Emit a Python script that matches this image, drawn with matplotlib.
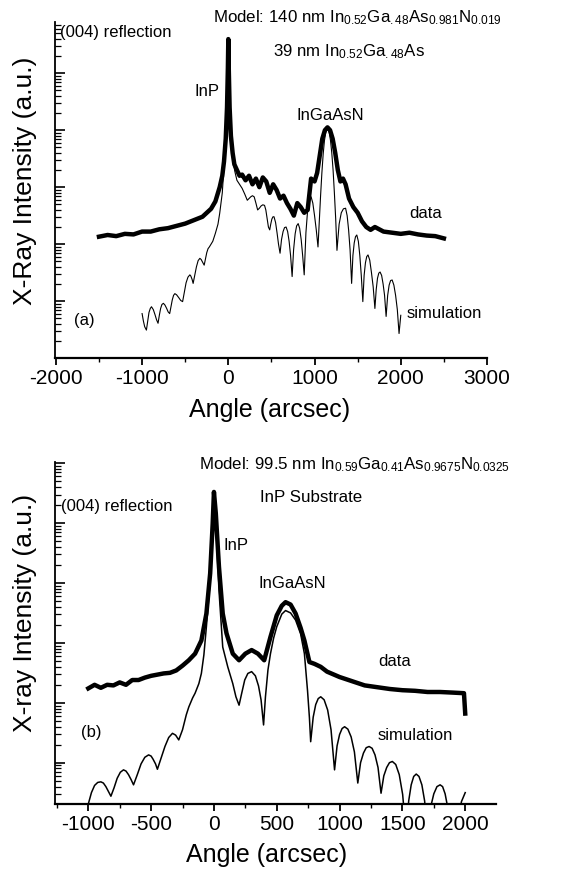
import numpy as np
import matplotlib
matplotlib.use('Agg')
import matplotlib.pyplot as plt
from matplotlib.ticker import MultipleLocator, NullFormatter, LogLocator

plt.rcParams['font.family'] = ['Liberation Sans', 'DejaVu Sans']
plt.rcParams['mathtext.fontset'] = 'custom'
plt.rcParams['mathtext.rm'] = 'Liberation Sans'
plt.rcParams['mathtext.it'] = 'Liberation Sans'
plt.rcParams['axes.unicode_minus'] = False

# panel (a): angle in arcsec, intensity as log10
a_data_x = [-1500, -1400, -1300, -1200, -1100, -1000, -900, -800, -700, -600, -500, -400, -300,
            -250, -200, -150, -100, -70, -50, -30, -15, -5, 0, 5, 15, 30, 50, 70, 100, 130, 160,
            200, 240, 280, 320, 360, 400, 440, 480, 520, 560, 600, 640, 680, 720, 760, 800, 840,
            880, 920, 960, 1000, 1030, 1060, 1090, 1120, 1150, 1180, 1210, 1240, 1270, 1300, 1330,
            1360, 1400, 1450, 1500, 1550, 1600, 1650, 1700, 1800, 1900, 2000, 2100, 2200, 2300,
            2400, 2500]
a_data_y = [2.13, 2.16, 2.14, 2.18, 2.17, 2.22, 2.22, 2.26, 2.28, 2.32, 2.36, 2.42, 2.48,
            2.55, 2.62, 2.75, 3.0, 3.2, 3.45, 3.85, 4.4, 5.1, 5.6, 5.1, 4.4, 3.9, 3.6, 3.4, 3.3,
            3.2, 3.22, 3.12, 3.2, 3.05, 3.15, 3.0, 3.17, 3.1, 2.9, 3.05, 2.95, 2.8, 2.85, 2.72,
            2.62, 2.5, 2.72, 2.65, 2.55, 2.6, 3.15, 3.1, 3.25, 3.55, 3.85, 4.0, 4.05, 4.0, 3.85,
            3.6, 3.3, 3.1, 3.15, 3.05, 2.8, 2.65, 2.55, 2.4, 2.3, 2.25, 2.3, 2.22, 2.2, 2.18,
            2.2, 2.17, 2.15, 2.14, 2.1]

a_sim_x = [-1000, -985, -970, -950, -935, -920, -905, -891, -870, -850, -832, -815, -800, -785,
           -770, -753, -735, -715, -698, -680, -665, -650, -635, -620, -600, -575, -552, -530,
           -510, -490, -468, -446, -435, -420, -408, -390, -370, -350, -330, -315, -298, -280,
           -265, -250, -235, -220, -200, -180, -150, -120, -100, -70, -50, -30, -15, -5, 0, 5,
           15, 30, 50, 75, 100, 130, 160, 190, 220, 240, 260, 280, 300, 320, 340, 360, 380, 400,
           420, 435, 450, 465, 480, 492, 505, 518, 530, 548, 565, 582, 600, 617, 635, 652, 670,
           688, 705, 722, 740, 757, 775, 792, 810, 827, 845, 862, 880, 900, 920, 940, 960, 980,
           1000, 1020, 1040, 1055, 1070, 1085, 1100, 1115, 1130, 1150, 1170, 1185, 1200, 1215,
           1230, 1245, 1260, 1285, 1310, 1335, 1360, 1378, 1395, 1412, 1430, 1445, 1460, 1475,
           1490, 1508, 1525, 1542, 1560, 1575, 1590, 1605, 1620, 1640, 1660, 1680, 1700, 1715,
           1730, 1745, 1760, 1778, 1795, 1812, 1830, 1848, 1865, 1882, 1900, 1920, 1940, 1960,
           1980, 1990, 2000]
a_sim_y = [0.78, 0.65, 0.55, 0.49, 0.65, 0.8, 0.87, 0.90, 0.85, 0.76, 0.67, 0.61, 0.75, 0.87,
           0.94, 0.96, 0.93, 0.87, 0.81, 0.78, 0.9, 1.02, 1.1, 1.13, 1.11, 1.06, 1.01, 0.99,
           1.15, 1.32, 1.42, 1.46, 1.44, 1.38, 1.31, 1.45, 1.6, 1.71, 1.75, 1.73, 1.68, 1.63,
           1.74, 1.85, 1.92, 1.95, 2.0, 2.05, 2.19, 2.35, 2.54, 2.9, 3.36, 3.9, 4.5, 5.2, 5.58,
           5.2, 4.45, 3.9, 3.5, 3.28, 3.12, 3.05, 2.98, 2.88, 2.77, 2.8, 2.83, 2.85, 2.83, 2.72,
           2.6, 2.63, 2.67, 2.69, 2.68, 2.6, 2.45, 2.3, 2.25, 2.35, 2.44, 2.48, 2.48, 2.38, 2.2,
           2.0, 1.84, 2.08, 2.22, 2.29, 2.30, 2.22, 2.05, 1.8, 1.43, 1.9, 2.18, 2.32, 2.36, 2.28,
           2.08, 1.8, 1.46, 2.2, 2.6, 2.8, 2.83, 2.72, 2.5, 2.25, 1.95, 2.4, 2.85, 3.25, 3.58,
           3.82, 3.96, 4.03, 3.96, 3.82, 3.6, 3.3, 2.9, 2.45, 1.89, 2.35, 2.55, 2.62, 2.63, 2.5,
           2.25, 1.9, 1.31, 1.8, 2.02, 2.13, 2.16, 2.05, 1.8, 1.45, 0.99, 1.45, 1.67, 1.78, 1.81,
           1.72, 1.5, 1.25, 0.87, 1.2, 1.4, 1.49, 1.51, 1.45, 1.3, 1.1, 0.73, 1.1, 1.28, 1.36,
           1.37, 1.28, 1.1, 0.85, 0.43, 0.6, 0.75]

# panel (b)
b_data_x = [-1000, -950, -900, -850, -800, -750, -700, -650, -600, -550, -500, -450, -400, -350,
            -300, -250, -200, -150, -100, -60, -30, -10, 0, 15, 40, 70, 100, 150, 200, 250, 300,
            350, 400, 450, 500, 540, 570, 610, 650, 690, 720, 760, 800, 850, 900, 1000, 1100,
            1200, 1300, 1400, 1500, 1600, 1700, 1800, 1900, 1990, 2000]
b_data_y = [1.24, 1.3, 1.25, 1.3, 1.29, 1.34, 1.3, 1.38, 1.38, 1.42, 1.45, 1.47, 1.49, 1.5,
            1.54, 1.62, 1.71, 1.82, 2.04, 2.49, 3.16, 3.99, 4.52, 4.16, 3.27, 2.49, 2.16, 1.82,
            1.71, 1.82, 1.88, 1.82, 1.71, 2.1, 2.46, 2.62, 2.68, 2.64, 2.49, 2.25, 2.04, 1.68,
            1.65, 1.6, 1.52, 1.43, 1.36, 1.29, 1.26, 1.23, 1.21, 1.2, 1.18, 1.18, 1.17, 1.16, 0.82]

b_sim_x = [-1000, -975, -950, -925, -900, -880, -860, -840, -820, -795, -770, -745, -720, -700,
           -680, -660, -640, -610, -580, -550, -520, -500, -485, -465, -450, -420, -390, -360,
           -330, -305, -280, -250, -220, -200, -170, -150, -120, -100, -80, -60, -30, -10, 0, 15,
           40, 70, 110, 150, 175, 200, 220, 245, 270, 300, 330, 355, 375, 395, 410, 430, 450,
           475, 500, 540, 570, 610, 650, 690, 720, 745, 760, 770, 790, 810, 830, 850, 877, 905,
           932, 960, 980, 1000, 1020, 1040, 1066, 1092, 1118, 1145, 1167, 1190, 1212, 1235, 1259,
           1282, 1306, 1330, 1352, 1375, 1397, 1420, 1447, 1475, 1502, 1530, 1550, 1570, 1590,
           1610, 1632, 1655, 1677, 1700, 1725, 1750, 1775, 1800, 1820, 1840, 1860, 1880, 1950,
           1970, 2000]
b_sim_y = [-0.69, -0.5, -0.38, -0.33, -0.32, -0.34, -0.40, -0.48, -0.56, -0.42, -0.26, -0.16,
           -0.12, -0.14, -0.2, -0.28, -0.37, -0.2, -0.02, 0.09, 0.13, 0.11, 0.06, -0.02, -0.11,
           0.08, 0.27, 0.42, 0.49, 0.46, 0.38, 0.55, 0.8, 0.93, 1.08, 1.16, 1.32, 1.49, 1.8,
           2.27, 3.04, 3.99, 4.52, 3.99, 2.88, 1.93, 1.6, 1.32, 1.1, 0.96, 1.15, 1.38, 1.49,
           1.52, 1.45, 1.28, 1.05, 0.63, 1.1, 1.55, 1.82, 2.08, 2.27, 2.48, 2.54, 2.5, 2.38,
           2.15, 1.82, 1.2, 0.75, 0.35, 0.76, 0.97, 1.07, 1.1, 1.05, 0.88, 0.55, -0.12, 0.28,
           0.47, 0.57, 0.6, 0.56, 0.43, 0.18, -0.34, 0.0, 0.16, 0.25, 0.27, 0.24, 0.13, -0.08,
           -0.51, -0.22, -0.08, 0.0, 0.02, -0.03, -0.2, -0.53, -1.2, -0.64, -0.37, -0.23, -0.19,
           -0.23, -0.37, -0.64, -1.2, -0.74, -0.52, -0.40, -0.37, -0.40, -0.52, -0.74, -1.2,
           -0.9, -0.65, -0.5]

W, H = 575, 873


def px(x, y):
    return x / W, 1 - y / H


def StyleAxes(ax, xlim, ylog, major, minor):
    ax.set_yscale('log')
    ax.set_xlim(*xlim)
    ax.set_ylim(10 ** ylog[0], 10 ** ylog[1])
    for s in ['top', 'right']:
        ax.spines[s].set_visible(False)
    ax.spines['left'].set_linewidth(1.3)
    ax.spines['bottom'].set_linewidth(1.6)
    ax.yaxis.set_major_locator(LogLocator(base=10, numticks=20))
    ax.yaxis.set_minor_locator(LogLocator(base=10, subs=np.arange(2, 10), numticks=20))
    ax.yaxis.set_major_formatter(NullFormatter())
    ax.yaxis.set_minor_formatter(NullFormatter())
    ax.tick_params(axis='y', which='major', direction='in', length=7, width=1.2)
    ax.tick_params(axis='y', which='minor', direction='in', length=4, width=0.9)
    ax.xaxis.set_major_locator(MultipleLocator(major))
    ax.xaxis.set_minor_locator(MultipleLocator(minor))
    ax.tick_params(axis='x', which='major', direction='out', length=5, width=1.3,
                   labelsize=15, pad=3)
    ax.tick_params(axis='x', which='minor', direction='out', length=3, width=1.0)


fig = plt.figure(figsize=(W / 100, H / 100), dpi=100)

ax1 = fig.add_axes([55 / W, 1 - 358 / H, 432 / W, 336 / H])
ax1.plot(a_sim_x, 10 ** np.array(a_sim_y), color='black', lw=0.8)
ax1.plot(a_data_x, 10 ** np.array(a_data_y), color='black', lw=3.2)
StyleAxes(ax1, (-2010, 3000), (0, 5.9), 1000, 500)

ax2 = fig.add_axes([55 / W, 1 - 804 / H, 441 / W, 342 / H])
ax2.plot(b_sim_x, 10 ** np.array(b_sim_y), color='black', lw=1.1)
ax2.plot(b_data_x, 10 ** np.array(b_data_y), color='black', lw=3.2)
StyleAxes(ax2, (-1265, 2245), (-0.69, 5.02), 500, 250)

fig.text(*px(25, 181), 'X-Ray Intensity (a.u.)', rotation=90, fontsize=19, ha='center', va='center')
fig.text(*px(270, 410), 'Angle (arcsec)', fontsize=18, ha='center', va='center')
fig.text(*px(25, 613), 'X-ray Intensity (a.u.)', rotation=90, fontsize=19, ha='center', va='center')
fig.text(*px(267, 855), 'Angle (arcsec)', fontsize=18, ha='center', va='center')

fs = 12
# panel (a) annotations
fig.text(*px(60, 32), '(004) reflection', fontsize=fs, va='center')
fig.text(*px(213, 18), r'Model: 140 nm In$_{0.52}$Ga$_{.48}$As$_{0.981}$N$_{0.019}$',
         fontsize=12.2, va='center')
fig.text(*px(273, 52), r'39 nm In$_{0.52}$Ga$_{.48}$As', fontsize=12.2, va='center')
fig.text(*px(195, 92), 'InP', fontsize=fs, va='center')
fig.text(*px(297, 115), 'InGaAsN', fontsize=fs, va='center')
fig.text(*px(409, 213), 'data', fontsize=fs, va='center')
fig.text(*px(407, 314), 'simulation', fontsize=fs, va='center')
fig.text(*px(74, 321), '(a)', fontsize=fs, va='center')

# panel (b) annotations
fig.text(*px(199, 465), r'Model: 99.5 nm In$_{0.59}$Ga$_{0.41}$As$_{0.9675}$N$_{0.0325}$',
         fontsize=12.2, va='center')
fig.text(*px(260, 497), 'InP Substrate', fontsize=12.2, va='center')
fig.text(*px(61, 506), '(004) reflection', fontsize=fs, va='center')
fig.text(*px(223, 546), 'InP', fontsize=fs, va='center')
fig.text(*px(258, 583), 'InGaAsN', fontsize=fs, va='center')
fig.text(*px(378, 662), 'data', fontsize=fs, va='center')
fig.text(*px(378, 736), 'simulation', fontsize=fs, va='center')
fig.text(*px(81, 733), '(b)', fontsize=fs, va='center')

fig.savefig('out.png', dpi=100)
